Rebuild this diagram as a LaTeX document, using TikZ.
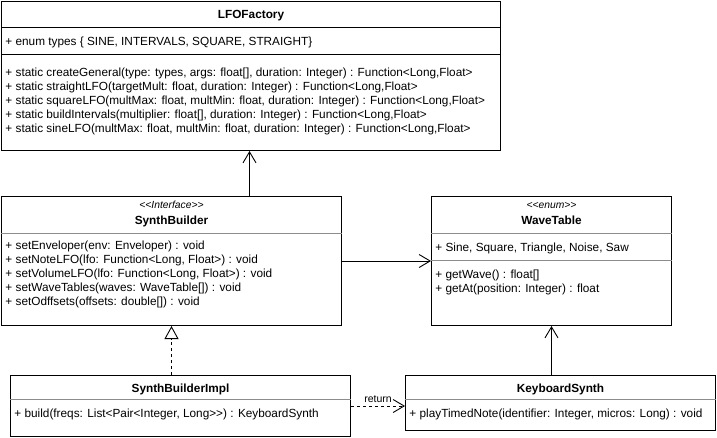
\documentclass[tikz,border=0pt]{standalone}
\usepackage{fontspec}
\setmainfont{Liberation Sans}[Ligatures=TeXOff]
\usepackage{tikz}
\usetikzlibrary{positioning, arrows.meta}

\begin{document}
\begin{tikzpicture}[x=1pt, y=-1pt, line width=0.9pt, font=\fontsize{11.8}{14}\selectfont]
\tikzstyle{classbox}=[draw, rectangle, anchor=north west, inner sep=0pt, line width=1pt]
\tikzstyle{member}=[anchor=base west, inner sep=0pt]
\tikzstyle{classname}=[anchor=base, inner sep=0pt, font=\fontsize{11.8}{14}\selectfont\bfseries]
\tikzstyle{stereo}=[anchor=base, inner sep=0pt, font=\fontsize{10.3}{12}\selectfont\itshape]
\tikzstyle{sepline}=[draw=black!45, line width=0.9pt]
\tikzstyle{assoc}=[-{Straight Barb[length=11pt, width=13pt]}]
\useasboundingbox (0,0) rectangle (717,437);

% class boxes
\node[classbox, minimum width=499pt, minimum height=149pt] (lfo) at (1,1) {};
\node[classbox, minimum width=340pt, minimum height=129pt] (sb) at (1,196) {};
\node[classbox, minimum width=240pt, minimum height=129pt] (wt) at (431,196) {};
\node[classbox, minimum width=340pt, minimum height=61pt] (impl) at (10,375) {};
\node[classbox, minimum width=310pt, minimum height=55pt] (ks) at (405,375) {};

% LFOFactory
\node[classname] (lfoname) at ([yshift=-17pt]lfo.north) {LFOFactory};
\draw[line width=1pt] ([yshift=-26pt]lfo.north west) -- ([yshift=-26pt]lfo.north east);
\node[member] (lfoattr) at ([xshift=4pt, yshift=-44pt]lfo.north west) {+ enum types \{ SINE, INTERVALS, SQUARE, STRAIGHT\}};
\draw[line width=1pt] ([yshift=-53pt]lfo.north west) -- ([yshift=-53pt]lfo.north east);
\node[member] (lfom1) at ([xshift=4pt, yshift=-75pt]lfo.north west) {+ static createGeneral(type: types, args: float[], duration: Integer) : Function<Long,Float>};
\node[member] (lfom2) at ([xshift=4pt, yshift=-89pt]lfo.north west) {+ static straightLFO(targetMult: float, duration: Integer) : Function<Long,Float>};
\node[member] (lfom3) at ([xshift=4pt, yshift=-103pt]lfo.north west) {+ static squareLFO(multMax: float, multMin: float, duration: Integer) : Function<Long,Float>};
\node[member] (lfom4) at ([xshift=4pt, yshift=-117pt]lfo.north west) {+ static buildIntervals(multiplier: float[], duration: Integer) : Function<Long,Float>};
\node[member] (lfom5) at ([xshift=4pt, yshift=-131pt]lfo.north west) {+ static sineLFO(multMax: float, multMin: float, duration: Integer) : Function<Long,Float>};

% SynthBuilder
\node[stereo] (sbstereo) at ([yshift=-12pt]sb.north) {<<Interface>>};
\node[classname] (sbname) at ([yshift=-28pt]sb.north) {SynthBuilder};
\draw[sepline] ([yshift=-37pt]sb.north west) -- ([yshift=-37pt]sb.north east);
\node[member] (sbm1) at ([xshift=4pt, yshift=-53pt]sb.north west) {+ setEnveloper(env: Enveloper) : void};
\node[member] (sbm2) at ([xshift=4pt, yshift=-67pt]sb.north west) {+ setNoteLFO(lfo: Function<Long, Float>) : void};
\node[member] (sbm3) at ([xshift=4pt, yshift=-81pt]sb.north west) {+ setVolumeLFO(lfo: Function<Long, Float>) : void};
\node[member] (sbm4) at ([xshift=4pt, yshift=-95pt]sb.north west) {+ setWaveTables(waves: WaveTable[]) : void};
\node[member] (sbm5) at ([xshift=4pt, yshift=-109pt]sb.north west) {+ setOdffsets(offsets: double[]) : void};

% WaveTable
\node[stereo] (wtstereo) at ([yshift=-12pt]wt.north) {<<enum>>};
\node[classname] (wtname) at ([yshift=-28pt]wt.north) {WaveTable};
\draw[sepline] ([yshift=-37pt]wt.north west) -- ([yshift=-37pt]wt.north east);
\node[member] (wtattr) at ([xshift=4pt, yshift=-55pt]wt.north west) {+ Sine, Square, Triangle, Noise, Saw};
\draw[sepline] ([yshift=-64pt]wt.north west) -- ([yshift=-64pt]wt.north east);
\node[member] (wtm1) at ([xshift=4pt, yshift=-82pt]wt.north west) {+ getWave() : float[]};
\node[member] (wtm2) at ([xshift=4pt, yshift=-96pt]wt.north west) {+ getAt(position: Integer) : float};

% SynthBuilderImpl
\node[classname] (implname) at ([yshift=-17pt]impl.north) {SynthBuilderImpl};
\draw[sepline] ([yshift=-24pt]impl.north west) -- ([yshift=-24pt]impl.north east);
\node[member] (implm1) at ([xshift=4pt, yshift=-42pt]impl.north west) {+ build(freqs: List<Pair<Integer, Long>>) : KeyboardSynth};

% KeyboardSynth
\node[classname] (ksname) at ([yshift=-17pt]ks.north) {KeyboardSynth};
\draw[sepline] ([yshift=-24pt]ks.north west) -- ([yshift=-24pt]ks.north east);
\node[member] (ksm1) at ([xshift=4pt, yshift=-42pt]ks.north west) {+ playTimedNote(identifier: Integer, micros: Long) : void};

% relations
\draw[assoc] ([xshift=78pt]sb.north) -- ([xshift=78pt]sb.north |- lfo.south);
\draw[assoc] (sb.east) -- (wt.west);
\draw[dashed, dash pattern=on 3pt off 3pt, -{Triangle[open, length=13pt, width=14pt]}] (sb.south |- impl.north) -- (sb.south);
\draw[assoc] (wt.south |- ks.north) -- (wt.south);
\draw[dash pattern=on 3pt off 3pt, assoc] (impl.east) -- (impl.east -| ks.west) node[pos=0.5, above, inner sep=3pt, font=\fontsize{10.5}{12}\selectfont] (ret) {return};
\end{tikzpicture}
\end{document}
